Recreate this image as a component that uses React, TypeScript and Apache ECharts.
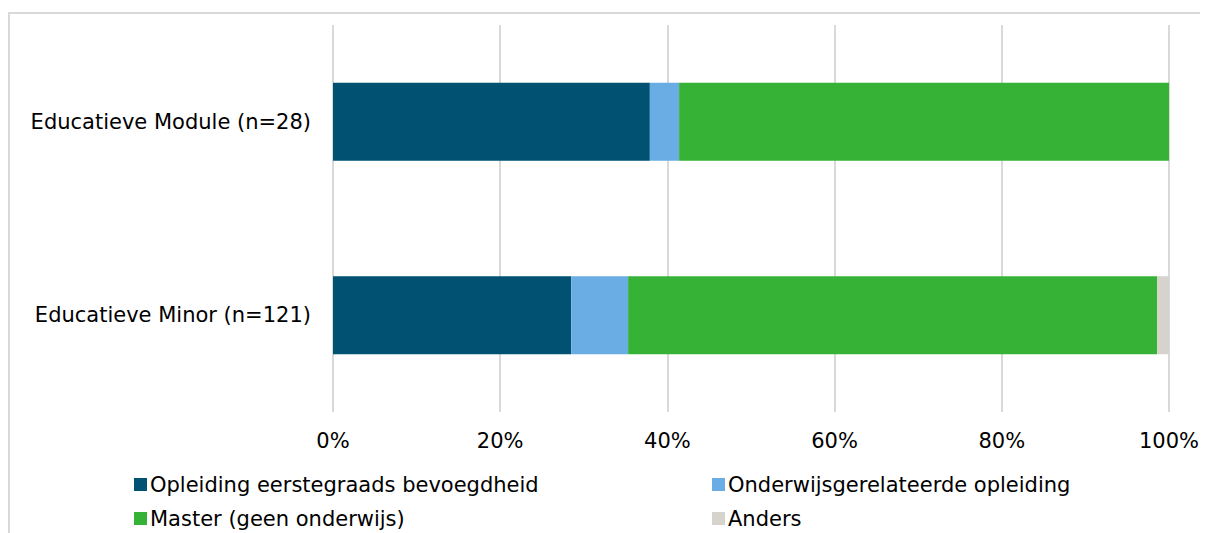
import React, { useEffect, useRef } from "react";
import * as echarts from "echarts";

const categories = ["Educatieve Module (n=28)", "Educatieve Minor (n=121)"];
const seriesNames = [
  "Opleiding eerstegraads bevoegdheid",
  "Onderwijsgerelateerde opleiding",
  "Master (geen onderwijs)",
  "Anders",
];
const eerstegraads = [37.9, 28.5];
const onderwijsgerelateerd = [3.5, 6.8];
const master = [58.6, 63.3];
const anders = [0, 1.4];
const colors = ["#015172", "#6AADE4", "#36B336", "#D6D3CC"];
const xTicks = [0, 20, 40, 60, 80, 100];

const FONT = "DejaVu Sans, Verdana, sans-serif";

export default function App() {
  const ref = useRef<HTMLDivElement>(null);
  useEffect(() => {
    if (!ref.current) return;
    const chart = echarts.init(ref.current, undefined, { renderer: "svg" });
    const values = [eerstegraads, onderwijsgerelateerd, master, anders];
    const legendPos = [
      { left: 126, top: 466 },
      { left: 704, top: 466 },
      { left: 126, top: 500 },
      { left: 704, top: 500 },
    ];
    chart.setOption({
      animation: false,
      textStyle: { fontFamily: FONT },
      graphic: [
        {
          type: "rect",
          shape: { x: 1, y: 5, width: 1400, height: 800 },
          style: { fill: "none", stroke: "#D9D9D9", lineWidth: 2 },
          silent: true,
          z: -10,
        },
      ],
      legend: seriesNames.map((n, i) => ({
        data: [n],
        left: legendPos[i].left,
        top: legendPos[i].top,
        padding: 0,
        itemWidth: 13,
        itemHeight: 13,
        itemGap: 5,
        icon: "rect",
        selectedMode: false,
        textStyle: { fontFamily: FONT, fontSize: 21, color: "#000", padding: [0, 0, 0, -2] },
      })),
      grid: { left: 325, right: 39, top: 17, bottom: 121, containLabel: false },
      xAxis: {
        type: "value",
        min: 0,
        max: 100,
        interval: 20,
        axisLine: { show: false },
        axisTick: { show: false },
        splitLine: { show: true, lineStyle: { color: "#D9D9D9", width: 2 } },
        axisLabel: {
          formatter: (v: number) => (xTicks.includes(v) ? v + "%" : ""),
          fontFamily: FONT,
          fontSize: 21,
          color: "#000",
          margin: 18,
        },
      },
      yAxis: {
        type: "category",
        data: categories,
        inverse: true,
        axisLine: { show: false },
        axisTick: { show: false },
        axisLabel: { fontFamily: FONT, fontSize: 21, color: "#000", margin: 22 },
      },
      series: seriesNames.map((n, i) => ({
        name: n,
        type: "bar",
        stack: "total",
        barWidth: 78,
        data: values[i],
        itemStyle: { color: colors[i] },
      })),
    });
    return () => chart.dispose();
  }, []);
  return <div ref={ref} style={{ width: 1200, height: 525 }} />;
}
